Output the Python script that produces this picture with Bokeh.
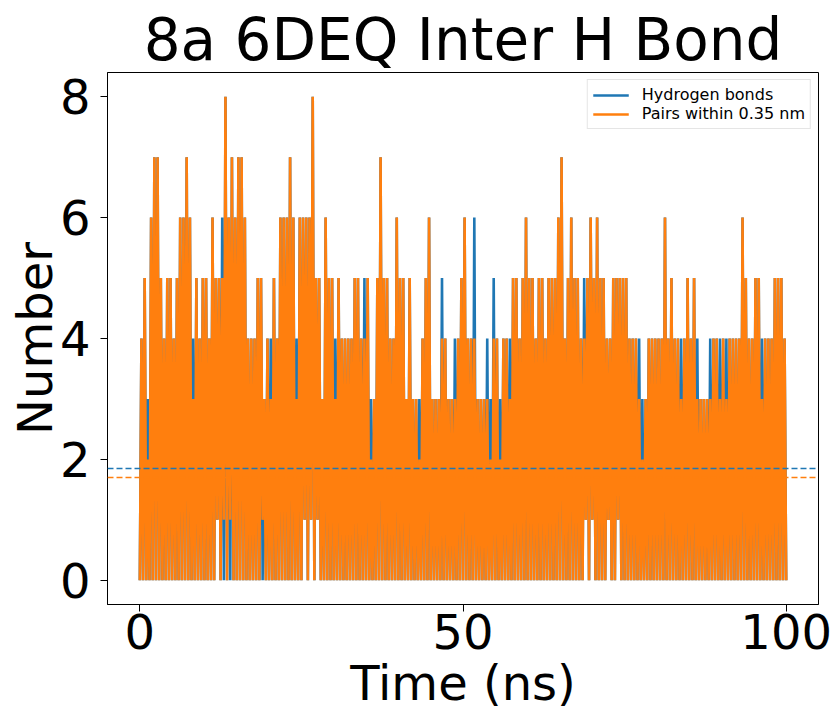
from bokeh.plotting import figure
from bokeh.models import Span, FixedTicker, Range1d
from bokeh.embed import file_html
from bokeh.resources import INLINE

# ---- data (counts per 0.5 ns window) ----
BIN_NS = 0.5

# highest count reached in each 0.5 ns window, 0-100 ns
pairs_peak = [
    4, 5, 2, 6, 7, 7, 5, 4, 5, 5, 4, 5, 6, 6, 7, 6, 3, 5, 4, 5,   # 0-10 ns
    5, 4, 6, 5, 5, 5, 8, 6, 7, 6, 7, 7, 6, 4, 4, 4, 5, 5, 3, 4,   # 10-20
    3, 5, 4, 6, 6, 6, 7, 6, 3, 6, 6, 6, 6, 8, 5, 5, 3, 6, 5, 5,   # 20-30
    3, 5, 4, 4, 4, 4, 5, 5, 4, 4, 5, 2, 3, 5, 7, 5, 5, 4, 4, 6,   # 30-40
    5, 5, 3, 5, 3, 3, 2, 4, 5, 6, 3, 3, 3, 4, 4, 3, 3, 3, 4, 5,   # 40-50
    6, 4, 4, 4, 3, 3, 3, 3, 2, 4, 4, 2, 4, 4, 3, 5, 5, 4, 5, 6,   # 50-60
    5, 5, 4, 5, 5, 4, 5, 5, 5, 6, 7, 4, 5, 6, 5, 5, 4, 4, 5, 6,   # 60-70
    5, 6, 5, 5, 4, 4, 5, 5, 5, 5, 5, 4, 4, 4, 3, 2, 3, 4, 4, 4,   # 70-80
    4, 4, 6, 4, 5, 4, 4, 3, 4, 5, 4, 5, 3, 3, 3, 3, 3, 4, 4, 3,   # 80-90
    4, 3, 4, 4, 4, 4, 6, 5, 4, 4, 5, 5, 3, 4, 4, 4, 5, 5, 5, 4,   # 90-100
]
hbond_peak = [
    4, 5, 3, 6, 7, 7, 5, 4, 5, 5, 4, 5, 6, 6, 7, 6, 4, 5, 4, 5,   # 0-10 ns
    5, 4, 6, 5, 5, 6, 8, 6, 7, 6, 7, 7, 6, 4, 4, 4, 5, 5, 3, 4,   # 10-20
    4, 5, 4, 6, 6, 6, 7, 6, 4, 6, 6, 6, 6, 8, 5, 5, 3, 6, 5, 5,   # 20-30
    4, 5, 4, 4, 4, 4, 5, 5, 4, 5, 5, 3, 3, 5, 7, 5, 5, 4, 4, 6,   # 30-40
    5, 5, 3, 5, 3, 3, 3, 4, 5, 6, 3, 3, 3, 5, 4, 3, 3, 4, 4, 5,   # 40-50
    6, 4, 4, 6, 3, 3, 3, 4, 3, 5, 4, 3, 4, 4, 4, 5, 5, 4, 5, 6,   # 50-60
    5, 5, 4, 5, 5, 4, 5, 5, 5, 6, 7, 4, 5, 6, 5, 5, 4, 5, 5, 6,   # 60-70
    5, 6, 5, 5, 4, 4, 5, 5, 5, 5, 5, 4, 4, 4, 4, 3, 3, 4, 4, 4,   # 70-80
    4, 4, 6, 4, 5, 4, 4, 4, 4, 5, 4, 5, 4, 3, 3, 3, 4, 4, 4, 4,   # 80-90
    4, 4, 4, 4, 4, 4, 6, 5, 4, 4, 5, 5, 4, 4, 4, 4, 5, 5, 5, 4,   # 90-100
]
# window starts (ns) where the count never dropped below 1
pairs_floor_one_ns = [12.0, 13.0, 14.0, 19.0, 25.5, 26.5, 27.5, 69.0, 70.0, 72.5, 74.0]
hbond_floor_one_ns = [12.0, 25.5, 26.5, 27.5, 69.0, 70.0, 72.5, 74.0]

hbond_mean = 1.85
pairs_mean = 1.70

x_ticks = [0, 50, 100]
y_ticks = [0, 2, 4, 6, 8]

series_names = ["Hydrogen bonds", "Pairs within 0.35 nm"]
series_colors = ["#1f77b4", "#ff7f0e"]


def trace(peaks, floor_one):
    floors = {round(v * 2) for v in floor_one}
    xs, ys = [], []
    for i, pk in enumerate(peaks):
        t0 = i * BIN_NS
        xs.append(t0)
        ys.append(1 if i in floors else 0)
        xs.append(t0 + BIN_NS / 2)
        ys.append(pk)
    xs.append(len(peaks) * BIN_NS)
    ys.append(0)
    return xs, ys


hx, hy = trace(hbond_peak, hbond_floor_one_ns)
px, py = trace(pairs_peak, pairs_floor_one_ns)

FONT = "DejaVu Sans"

p = figure(width=832, height=713, x_range=Range1d(-5, 105), y_range=Range1d(-0.4, 8.4),
           output_backend="svg", toolbar_location=None,
           min_border_left=107, min_border_right=14, min_border_top=72, min_border_bottom=109,
           title="8a 6DEQ Inter H Bond")
p.title.text_font = FONT
p.title.text_font_size = "58px"
p.title.text_font_style = "normal"
p.title.text_color = "black"
p.title.align = "center"
p.title.standoff = -2

p.line(hx, hy, color=series_colors[0], line_width=2.6, legend_label=series_names[0])
p.line(px, py, color=series_colors[1], line_width=2.6, legend_label=series_names[1])

p.add_layout(Span(location=hbond_mean, dimension="width", line_color=series_colors[0],
                  line_dash="6 3", line_width=1.5))
p.add_layout(Span(location=pairs_mean, dimension="width", line_color=series_colors[1],
                  line_dash="6 3", line_width=1.5))

p.grid.visible = False
p.outline_line_color = "black"
p.outline_line_width = 1

for ax, ticks in ((p.xaxis[0], x_ticks), (p.yaxis[0], y_ticks)):
    ax.ticker = FixedTicker(ticks=ticks)
    ax.minor_tick_out = 0
    ax.minor_tick_in = 0
    ax.major_tick_in = 0
    ax.major_tick_out = 7
    ax.major_label_text_font = FONT
    ax.major_label_text_font_size = "48px"
    ax.major_label_text_color = "black"
    ax.axis_label_text_font = FONT
    ax.axis_label_text_font_size = "48px"
    ax.axis_label_text_font_style = "normal"
    ax.axis_label_text_color = "black"
    ax.axis_line_color = "black"
    ax.major_tick_line_color = "black"

p.xaxis.axis_label = "Time (ns)"
p.xaxis.major_label_standoff = 2
p.xaxis.axis_label_standoff = 3
p.yaxis.axis_label = "Number"
p.yaxis.major_label_standoff = 10
p.yaxis.axis_label_standoff = -6

lg = p.legend[0]
lg.location = "top_right"
lg.label_text_font = FONT
lg.label_text_font_size = "16px"
lg.label_text_color = "black"
lg.glyph_width = 36
lg.glyph_height = 16
lg.label_height = 16
lg.label_standoff = 13
lg.spacing = 0
lg.padding = 5
lg.margin = 7
lg.border_line_color = "#cccccc"
lg.background_fill_alpha = 0.8

open("out.html", "w").write(file_html(p, INLINE))
